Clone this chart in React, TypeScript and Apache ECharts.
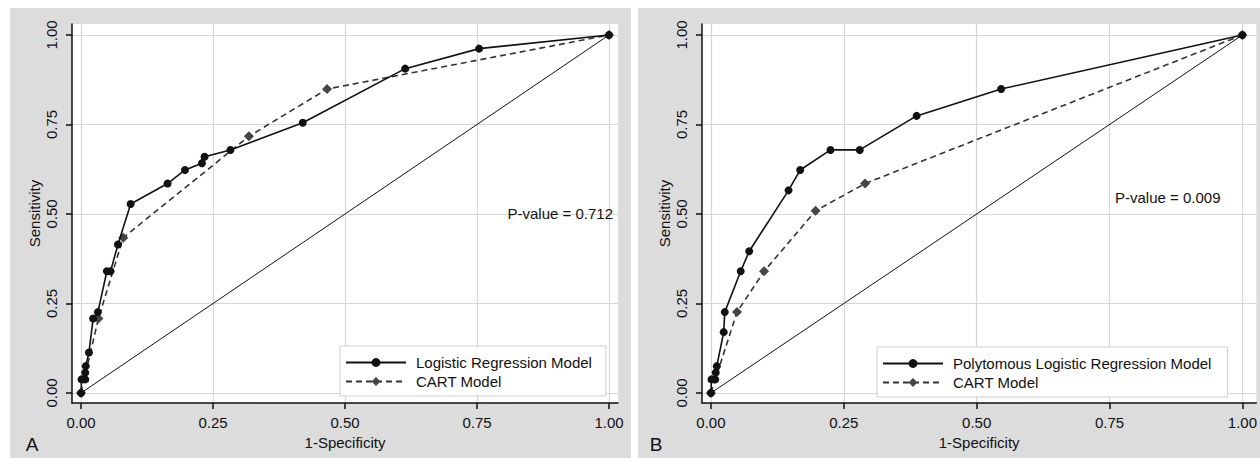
import React, { useEffect, useRef } from "react";
import * as echarts from "echarts";

// ---- Data ----
const TICKS = [0, 0.25, 0.5, 0.75, 1];

// Panel A – Logistic Regression Model
const lrFpr = [0, 0.001, 0.008, 0.008, 0.009, 0.015, 0.023, 0.032, 0.049, 0.056, 0.07, 0.094, 0.164, 0.197, 0.229, 0.234, 0.283, 0.42, 0.614, 0.754, 1];
const lrSens = [0, 0.038, 0.038, 0.057, 0.075, 0.113, 0.208, 0.226, 0.34, 0.34, 0.415, 0.528, 0.585, 0.623, 0.642, 0.66, 0.679, 0.755, 0.906, 0.962, 1];

// Panel A – CART Model
const cartAFpr = [0, 0.033, 0.08, 0.318, 0.466, 1];
const cartASens = [0, 0.208, 0.434, 0.717, 0.849, 1];

// Panel B – Polytomous Logistic Regression Model
const plrFpr = [0, 0.001, 0.008, 0.009, 0.011, 0.024, 0.026, 0.056, 0.072, 0.146, 0.168, 0.225, 0.28, 0.387, 0.546, 1];
const plrSens = [0, 0.038, 0.038, 0.057, 0.075, 0.17, 0.226, 0.34, 0.396, 0.566, 0.623, 0.679, 0.679, 0.774, 0.849, 1];

// Panel B – CART Model
const cartBFpr = [0, 0.049, 0.1, 0.197, 0.29, 1];
const cartBSens = [0, 0.226, 0.34, 0.509, 0.585, 1];

// Reference diagonal
const diagX = [0, 1];
const diagY = [0, 1];

const SERIES_A = "Logistic Regression Model";
const SERIES_B = "Polytomous Logistic Regression Model";
const SERIES_CART = "CART Model";
const PVALUE_A = "P-value = 0.712";
const PVALUE_B = "P-value = 0.009";

const FONT = '"Liberation Sans", Arial, Helvetica, sans-serif';
const INK = "#111111";

const pairs = (xs: number[], ys: number[]) => xs.map((x, i) => [x, ys[i]]);

function xAxisOpt(gridIndex: number, min: number, max: number) {
  return {
    gridIndex,
    type: "value",
    min,
    max,
    name: "1-Specificity",
    nameLocation: "middle",
    nameGap: 24,
    nameTextStyle: { fontSize: 15, color: INK, fontFamily: FONT },
    axisLine: { show: true, onZero: false, lineStyle: { color: INK, width: 1.5 } },
    axisTick: { show: true, customValues: TICKS, length: 6, lineStyle: { color: INK, width: 1.5 } },
    axisLabel: {
      customValues: TICKS,
      formatter: (v: number) => v.toFixed(2),
      fontSize: 15,
      color: INK,
      fontFamily: FONT,
      margin: 12,
    },
    splitLine: { show: true, lineStyle: { color: "#d6d6d6", width: 1.2 } },
  };
}

function yAxisOpt(gridIndex: number) {
  return {
    gridIndex,
    type: "value",
    min: -10 / 358,
    max: 1 + 11 / 358,
    name: "Sensitivity",
    nameLocation: "middle",
    nameGap: 30,
    nameTextStyle: { fontSize: 15, color: INK, fontFamily: FONT },
    axisLine: { show: true, onZero: false, lineStyle: { color: INK, width: 1.5 } },
    axisTick: { show: true, customValues: TICKS, length: 6, lineStyle: { color: INK, width: 1.5 } },
    axisLabel: {
      customValues: TICKS,
      formatter: (v: number) => v.toFixed(2),
      rotate: 90,
      fontSize: 15,
      color: INK,
      fontFamily: FONT,
      margin: 13,
    },
    splitLine: { show: true, lineStyle: { color: "#d6d6d6", width: 1.2 } },
  };
}

function modelSeries(name: string, idx: number, xs: number[], ys: number[]) {
  return {
    name,
    type: "line",
    xAxisIndex: idx,
    yAxisIndex: idx,
    data: pairs(xs, ys),
    symbol: "circle",
    symbolSize: 8,
    showSymbol: true,
    clip: false,
    silent: true,
    z: 4,
    lineStyle: { color: "#111", width: 1.6 },
    itemStyle: { color: "#111" },
    emphasis: { disabled: true },
  };
}

function cartSeries(idx: number, xs: number[], ys: number[]) {
  return {
    name: SERIES_CART,
    type: "line",
    xAxisIndex: idx,
    yAxisIndex: idx,
    data: pairs(xs, ys),
    symbol: "diamond",
    symbolSize: 10,
    showSymbol: true,
    clip: false,
    silent: true,
    z: 3,
    lineStyle: { color: "#333", width: 1.6, type: [6, 4] },
    itemStyle: { color: "#454545" },
    emphasis: { disabled: true },
  };
}

function diagSeries(idx: number) {
  return {
    name: "diag" + idx,
    type: "line",
    xAxisIndex: idx,
    yAxisIndex: idx,
    data: pairs(diagX, diagY),
    showSymbol: false,
    symbol: "none",
    clip: false,
    silent: true,
    z: 2,
    lineStyle: { color: "#111", width: 1 },
    emphasis: { disabled: true },
  };
}

function legendOpt(left: number, top: number, names: string[], padRight: number) {
  return {
    show: true,
    orient: "vertical",
    left,
    top,
    data: names,
    selectedMode: false,
    backgroundColor: "#fff",
    borderColor: "#cfcfcf",
    borderWidth: 1,
    borderRadius: 0,
    padding: [9, padRight, 7, 5],
    itemWidth: 60,
    itemHeight: 11,
    itemGap: 4,
    textStyle: { fontSize: 15, color: INK, fontFamily: FONT, padding: [0, 0, 0, 5] },
  };
}

export default function App() {
  const ref = useRef<HTMLDivElement>(null);

  useEffect(() => {
    if (!ref.current) return;
    const chart = echarts.init(ref.current, null, { renderer: "svg" });
    const option: any = {
      animation: false,
      backgroundColor: "#ffffff",
      grid: [
        { left: 72, top: 24, width: 546, height: 379, show: true, backgroundColor: "#fff", borderWidth: 0 },
        { left: 702, top: 24, width: 558, height: 379, show: true, backgroundColor: "#fff", borderWidth: 0 },
      ],
      xAxis: [xAxisOpt(0, -9 / 528, 1 + 9 / 528), xAxisOpt(1, -9 / 535, (1260 - 711) / 535)],
      yAxis: [yAxisOpt(0), yAxisOpt(1)],
      legend: [
        legendOpt(340, 346, [SERIES_A, SERIES_CART], 14),
        legendOpt(877, 347, [SERIES_B, SERIES_CART], 16),
      ],
      series: [
        diagSeries(0),
        cartSeries(0, cartAFpr, cartASens),
        modelSeries(SERIES_A, 0, lrFpr, lrSens),
        diagSeries(1),
        cartSeries(1, cartBFpr, cartBSens),
        modelSeries(SERIES_B, 1, plrFpr, plrSens),
      ],
      graphic: [
        { type: "rect", z: -10, silent: true, shape: { x: 10, y: 8, width: 621, height: 450 }, style: { fill: "#dcdcdc" } },
        { type: "rect", z: -10, silent: true, shape: { x: 638, y: 8, width: 622, height: 450 }, style: { fill: "#dcdcdc" } },
        { type: "text", z: 10, x: 32, y: 444, style: { text: "A", font: `19px ${FONT}`, fill: INK, align: "center", verticalAlign: "middle" } },
        { type: "text", z: 10, x: 656, y: 444, style: { text: "B", font: `19px ${FONT}`, fill: INK, align: "center", verticalAlign: "middle" } },
        { type: "text", z: 10, x: 613, y: 213, style: { text: PVALUE_A, font: `15px ${FONT}`, fill: INK, align: "right", verticalAlign: "middle" } },
        { type: "text", z: 10, x: 1115, y: 197, style: { text: PVALUE_B, font: `15px ${FONT}`, fill: INK, align: "left", verticalAlign: "middle" } },
      ],
    };
    chart.setOption(option);
    return () => chart.dispose();
  }, []);

  return (
    <div
      ref={ref}
      style={{ position: "fixed", left: 0, top: 0, width: 1260, height: 458, background: "#fff" }}
    />
  );
}
